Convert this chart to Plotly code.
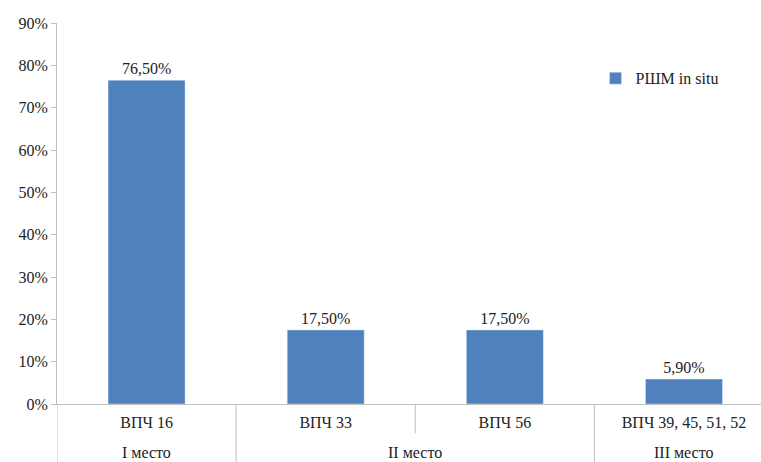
import plotly.graph_objects as go

groups = ["I место", "II место", "III место"]
group_centers = [0, 1.5, 3]
types = ["ВПЧ 16", "ВПЧ 33", "ВПЧ 56", "ВПЧ 39, 45, 51, 52"]
values = [0.765, 0.175, 0.175, 0.059]
series_name = "РШМ in situ"

FONT = "'Times New Roman', 'Liberation Serif', serif"
GRID = "#BFBFBF"

fig = go.Figure()
fig.add_trace(go.Bar(
    x=types,
    y=values,
    name=series_name,
    marker_color="#4F81BD",
    width=0.43,
    texttemplate="%{y:.2%}",
    textposition="outside",
    textfont=dict(size=16, color="#222222", family=FONT),
    cliponaxis=False,
    showlegend=True,
))

# dividers below the x axis: full height between groups, short inside a group
for xv in [-0.5, 0.5, 2.5]:
    fig.add_shape(type="line", xref="x", yref="paper", x0=xv, x1=xv, y0=0, y1=-0.16,
                  line=dict(color=GRID, width=1))
fig.add_shape(type="line", xref="x", yref="paper", x0=1.5, x1=1.5, y0=0, y1=-0.077,
              line=dict(color=GRID, width=1))

# group labels
for g, xc in zip(groups, group_centers):
    fig.add_annotation(x=xc, xref="x", y=-0.126, yref="paper", text=g, showarrow=False,
                       font=dict(size=16, family=FONT, color="#222222"),
                       xanchor="center", yanchor="middle")

fig.update_layout(
    width=761, height=462,
    margin=dict(l=57, r=0, t=23, b=58),
    paper_bgcolor="white", plot_bgcolor="white",
    font=dict(family=FONT, size=16, color="#222222"),
    separators=", ",
    showlegend=True,
    legend=dict(x=0.765, y=0.855, xanchor="left", yanchor="middle",
                font=dict(size=16, family=FONT), bgcolor="rgba(0,0,0,0)", itemwidth=30),
)
fig.update_xaxes(
    type="category",
    range=[-0.5, 3.43],
    showline=True, linecolor=GRID, linewidth=1,
    ticks="", ticklabelstandoff=4,
    tickfont=dict(size=16, family=FONT),
    automargin=False,
)
fig.update_yaxes(
    range=[0, 0.9], dtick=0.1, tickformat=".0%",
    showgrid=False, zeroline=False,
    showline=True, linecolor=GRID, linewidth=1,
    ticks="outside", ticklen=5, tickcolor=GRID,
    tickfont=dict(size=16, family=FONT),
    automargin=False,
)

fig.write_html("out.html", config={"displayModeBar": False},
               post_script="document.body.style.margin='0';")
